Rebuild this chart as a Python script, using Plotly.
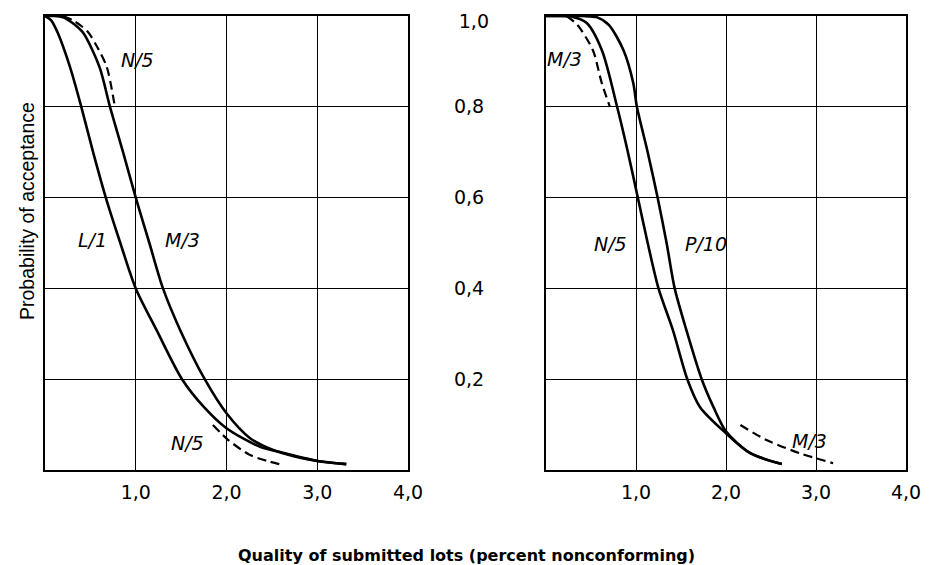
import plotly.graph_objects as go

# ---- data ----
# Left panel
l1_x = [0, 0.07, 0.14, 0.275, 0.40, 0.53, 0.67, 0.83, 1.0, 1.23, 1.51, 1.75, 2.0, 2.37, 2.62, 3.0, 3.32]
l1_y = [1.0, 0.99, 0.963, 0.888, 0.80, 0.70, 0.60, 0.50, 0.40, 0.308, 0.20, 0.139, 0.092, 0.051, 0.038, 0.020, 0.013]

m3_left_x = [0, 0.1, 0.2, 0.3, 0.42, 0.6, 0.716, 0.86, 1.0, 1.15, 1.30, 1.49, 1.76, 2.0, 2.26, 2.5, 2.75, 3.0, 3.32]
m3_left_y = [1.0, 1.0, 0.997, 0.985, 0.963, 0.888, 0.80, 0.70, 0.60, 0.50, 0.40, 0.308, 0.20, 0.125, 0.07, 0.045, 0.03, 0.02, 0.013]

n5_left_top_x = [0.2, 0.31, 0.40, 0.48, 0.58, 0.68, 0.77]
n5_left_top_y = [1.0, 0.99, 0.978, 0.963, 0.93, 0.888, 0.80]

n5_left_bot_x = [1.85, 2.02, 2.26, 2.45, 2.62]
n5_left_bot_y = [0.099, 0.066, 0.033, 0.020, 0.011]

# Right panel
n5_right_x = [0, 0.15, 0.3, 0.45, 0.62, 0.79, 0.91, 1.02, 1.13, 1.25, 1.41, 1.57, 1.71, 2.0, 2.27, 2.62]
n5_right_y = [1.0, 1.0, 0.998, 0.985, 0.925, 0.80, 0.70, 0.60, 0.50, 0.40, 0.308, 0.20, 0.139, 0.081, 0.037, 0.013]

p10_x = [0, 0.4, 0.57, 0.7, 0.86, 0.97, 1.01, 1.13, 1.24, 1.34, 1.43, 1.56, 1.73, 1.86, 2.0, 2.27, 2.62]
p10_y = [1.0, 1.0, 0.997, 0.98, 0.925, 0.852, 0.80, 0.70, 0.60, 0.50, 0.40, 0.308, 0.20, 0.139, 0.085, 0.037, 0.013]

m3_right_top_x = [0.23, 0.35, 0.52, 0.62, 0.71]
m3_right_top_y = [1.0, 0.98, 0.925, 0.852, 0.80]

m3_right_bot_x = [2.16, 2.45, 2.82, 3.19]
m3_right_bot_y = [0.099, 0.066, 0.037, 0.015]

x_ticks = [1, 2, 3, 4]
x_tick_labels = ["1,0", "2,0", "3,0", "4,0"]
y_ticks = [0.2, 0.4, 0.6, 0.8]
y_tick_labels = ["0,2", "0,4", "0,6", "0,8"]
y_top_tick = [1.0]
y_top_label = ["1,0"]

x_title = "Quality of submitted lots (percent nonconforming)"
y_title = "Probability of acceptance"

# ---- figure ----
fig = go.Figure()

DASH = "9px,5px"

def add(x, y, axis, dash="solid", width=2.6):
    xa, ya = ("x", "y") if axis == 1 else ("x2", "y2")
    fig.add_trace(go.Scatter(x=x, y=y, mode="lines", xaxis=xa, yaxis=ya,
                             line=dict(color="black", width=width, dash=dash,
                                       shape="spline", smoothing=0.8),
                             showlegend=False, hoverinfo="skip"))

add(l1_x, l1_y, 1)
add(m3_left_x, m3_left_y, 1)
add(n5_left_top_x, n5_left_top_y, 1, dash=DASH, width=2.2)
add(n5_left_bot_x, n5_left_bot_y, 1, dash=DASH, width=2.2)
add(n5_right_x, n5_right_y, 2)
add(p10_x, p10_y, 2)
add(m3_right_top_x, m3_right_top_y, 2, dash=DASH, width=2.2)
add(m3_right_bot_x, m3_right_bot_y, 2, dash=DASH, width=2.2)

tickfont = dict(family="DejaVu Sans", size=19, color="black")
xcommon = dict(range=[0, 4], tickvals=x_ticks, ticktext=x_tick_labels,
               showgrid=True, gridcolor="black", gridwidth=1.3,
               showline=True, linecolor="black", linewidth=2, mirror=True,
               zeroline=False, ticks="", tickfont=tickfont, ticklabelstandoff=4,
               ticklabeloverflow="allow", automargin=False, fixedrange=True)
ycommon = dict(range=[0, 1], tickvals=y_ticks, ticktext=y_tick_labels,
               showgrid=True, gridcolor="black", gridwidth=1.3,
               showline=True, linecolor="black", linewidth=2, mirror=True,
               zeroline=False, ticks="", tickfont=tickfont,
               ticklabeloverflow="allow", automargin=False, fixedrange=True)

# page body has an 8px margin: shrink figure so the plot lands where the reference has it
OFF = 8
W, H = 930 - OFF, 565 - OFF
ml, mr, mt, mb = 45 - OFF, 24, 16 - OFF, 95
pw = W - ml - mr
ph = H - mt - mb

fig.update_layout(
    width=W, height=H,
    margin=dict(l=ml, r=mr, t=mt, b=mb),
    paper_bgcolor="white", plot_bgcolor="white",
    xaxis=dict(domain=[0, 363 / pw], anchor="y", **xcommon),
    yaxis=dict(domain=[0, 1], anchor="x", showticklabels=False, **ycommon),
    xaxis2=dict(domain=[501 / pw, 1], anchor="y2", **xcommon),
    yaxis2=dict(domain=[0, 1], anchor="x2", ticklabelstandoff=56, **ycommon),
    # top "1,0" label on an overlay axis, nudged down so it stays inside the page
    yaxis3=dict(overlaying="y2", anchor="x2", side="left", range=[0, 1],
                tickvals=y_top_tick, ticktext=y_top_label, tickfont=tickfont,
                showgrid=False, showline=False, zeroline=False, ticks="",
                ticklabelstandoff=56, ticklabelshift=5, ticklabeloverflow="allow",
                automargin=False, fixedrange=True),
)
# invisible trace so the overlay axis is drawn
fig.add_trace(go.Scatter(x=[None], y=[None], xaxis="x2", yaxis="y3", mode="lines",
                         showlegend=False, hoverinfo="skip"))

lblfont = dict(family="DejaVu Sans", size=19, color="black")
labels = [
    ("x", "y", 1.02, 0.902, "N/5"),
    ("x", "y", 0.52, 0.507, "L/1"),
    ("x", "y", 1.51, 0.507, "M/3"),
    ("x", "y", 1.57, 0.060, "N/5"),
    ("x2", "y2", 0.21, 0.905, "M/3"),
    ("x2", "y2", 0.72, 0.498, "N/5"),
    ("x2", "y2", 1.78, 0.498, "P/10"),
    ("x2", "y2", 2.93, 0.064, "M/3"),
]
for xr, yr, xv, yv, t in labels:
    fig.add_annotation(x=xv, y=yv, xref=xr, yref=yr, text="<i>" + t + "</i>",
                       xanchor="center", yanchor="middle",
                       showarrow=False, font=lblfont)

fig.add_annotation(x=(466 - 45) / pw, y=(470 - 555) / ph, xref="paper", yref="paper",
                   xanchor="center", yanchor="middle",
                   text="<b>" + x_title + "</b>", showarrow=False,
                   font=dict(family="DejaVu Sans", size=16, color="black"))
fig.add_annotation(x=(27 - 45) / pw, y=(470 - 211) / ph, xref="paper", yref="paper",
                   xanchor="center", yanchor="middle",
                   text=y_title, textangle=-90, showarrow=False,
                   font=dict(family="Liberation Sans", size=19.5, color="black"))

fig.write_html("out.html")
